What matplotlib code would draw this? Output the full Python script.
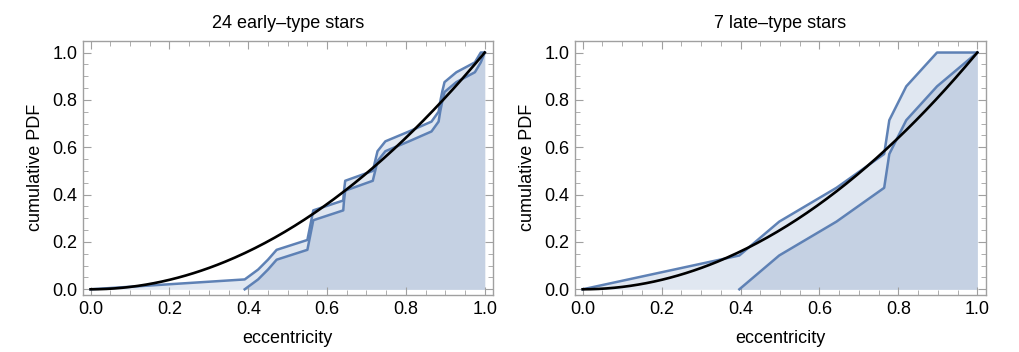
import numpy as np
import matplotlib
matplotlib.use("Agg")
import matplotlib.pyplot as plt
from matplotlib.ticker import MultipleLocator

# sorted eccentricities
ecc_early = [0.391, 0.425, 0.450, 0.472, 0.550, 0.555, 0.560, 0.565,
             0.641, 0.643, 0.646, 0.716, 0.722, 0.728, 0.748, 0.808,
             0.865, 0.883, 0.887, 0.892, 0.898, 0.928, 0.975, 0.990]
ecc_late = [0.397, 0.498, 0.643, 0.764, 0.777, 0.820, 0.898]

titles = ["24 early\u2013type stars", "7 late\u2013type stars"]

LINE = "#5E81B5"
DARK = "#C5D1E3"
LIGHT = "#E0E7F1"
FRAME = "#A0A0A0"

plt.rcParams['font.family'] = ['Liberation Sans Narrow', 'Liberation Sans', 'DejaVu Sans']
plt.rcParams['font.size'] = 12

fig = plt.figure(figsize=(10.19, 3.52), dpi=100)
ax1 = fig.add_axes([0.0812, 0.162, 0.4026, 0.7224])
ax2 = fig.add_axes([0.5641, 0.162, 0.4031, 0.7224])


def cdf_bounds(ecc):
    n = len(ecc)
    e = np.array(ecc)
    k = np.arange(1, n + 1)
    ux = np.concatenate([[0.0], e, [1.0]])
    uy = np.concatenate([[0.0], k / n, [1.0]])
    lx = np.concatenate([e, [1.0]])
    ly = np.concatenate([(k - 1) / n, [1.0]])
    return ux, uy, lx, ly


for ax, ecc, title in zip([ax1, ax2], [ecc_early, ecc_late], titles):
    ux, uy, lx, ly = cdf_bounds(ecc)
    ax.fill_between(ux, uy, 0, color=LIGHT, lw=0)
    ax.fill_between(lx, ly, 0, color=DARK, lw=0)
    ax.plot(ux, uy, color=LINE, lw=1.8)
    ax.plot(lx, ly, color=LINE, lw=1.8)
    x = np.linspace(0, 1, 200)
    ax.plot(x, x ** 2, color='black', lw=1.9)

    ax.set_xlim(-0.02, 1.021)
    ax.set_ylim(-0.024, 1.05)
    ax.xaxis.set_major_locator(MultipleLocator(0.2))
    ax.xaxis.set_minor_locator(MultipleLocator(0.05))
    ax.yaxis.set_major_locator(MultipleLocator(0.2))
    ax.yaxis.set_minor_locator(MultipleLocator(0.05))
    ax.xaxis.set_major_formatter(plt.FormatStrFormatter('%.1f'))
    ax.yaxis.set_major_formatter(plt.FormatStrFormatter('%.1f'))
    ax.tick_params(which='both', direction='in', top=True, right=True,
                   color=FRAME, labelsize=13, pad=4)
    ax.tick_params(which='major', length=6)
    ax.tick_params(which='minor', length=3.5)
    for s in ax.spines.values():
        s.set_color(FRAME)
        s.set_linewidth(1.0)
    ax.set_title(title, fontsize=13, pad=9)
    ax.set_xlabel('eccentricity', fontsize=13, labelpad=9)
    ax.set_ylabel('cumulative PDF', fontsize=13, labelpad=6)

fig.savefig('out.png', dpi=100)
